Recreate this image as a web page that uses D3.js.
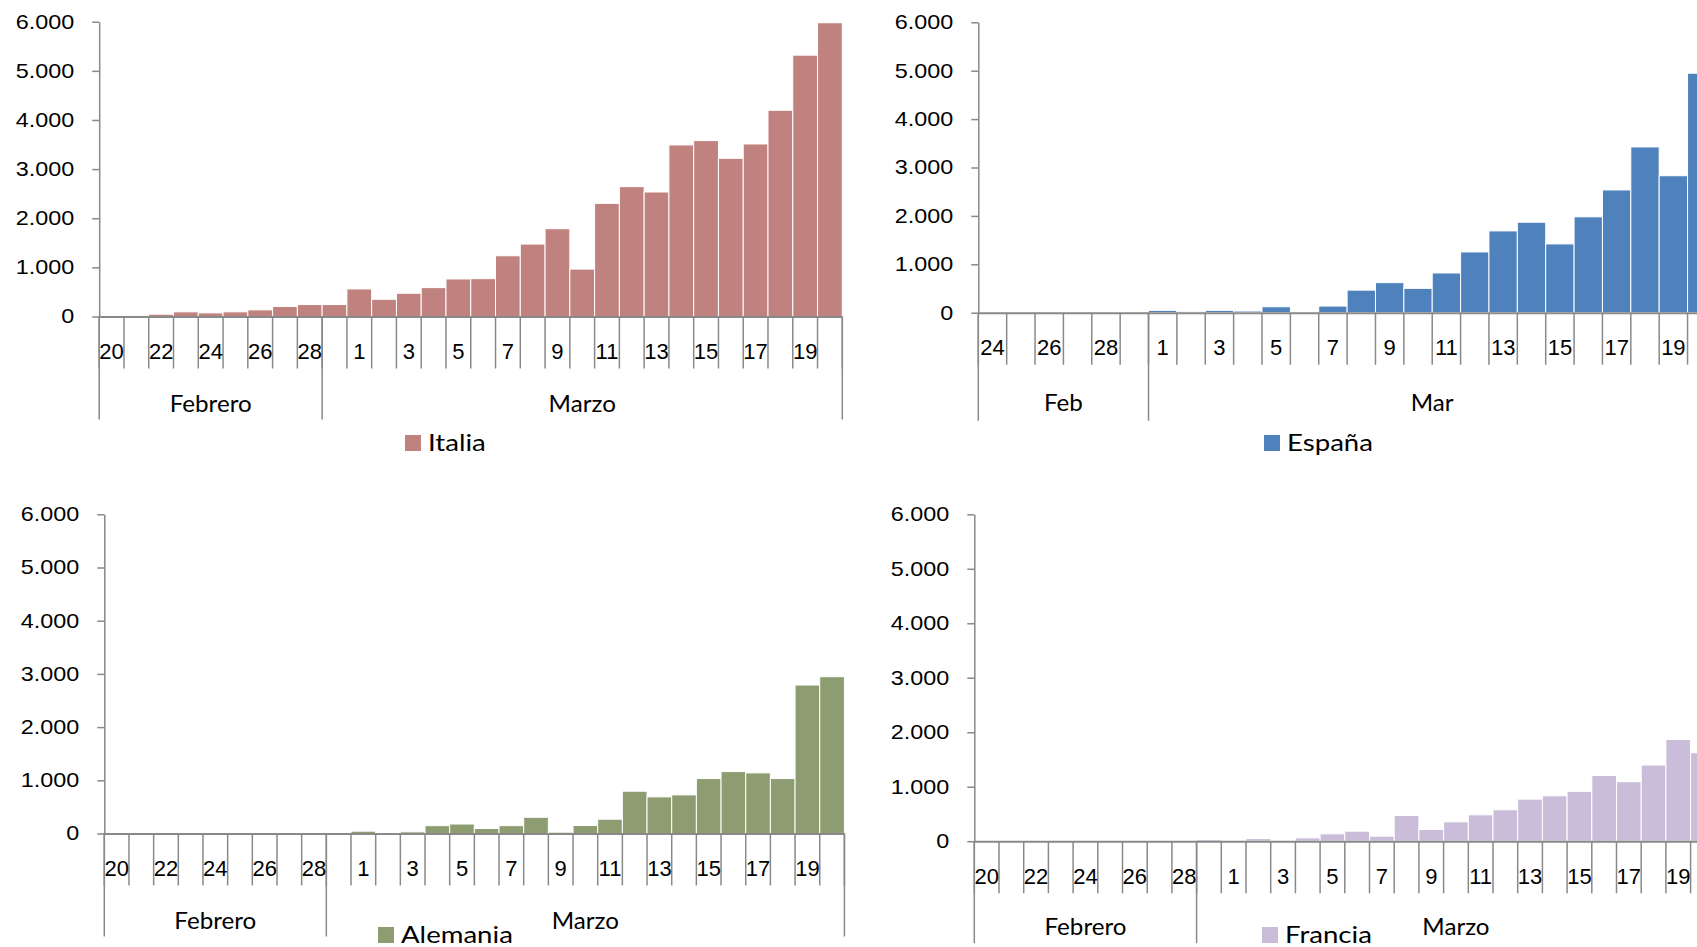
<!DOCTYPE html>
<html>
<head>
<meta charset="utf-8">
<script src="https://cdn.jsdelivr.net/npm/d3@7"></script>
<style>
  html, body { margin: 0; padding: 0; background: #fff; overflow: hidden; }
  svg { display: block; font-family: Lato, "Open Sans", sans-serif; }
</style>
</head>
<body>
<svg id="chart" width="1697" height="947"></svg>
<script>
// etiquetas de días (Italia, Alemania, Francia: 20 feb - 20 mar)
const diasLargo = ["20","21","22","23","24","25","26","27","28","29",
  "1","2","3","4","5","6","7","8","9","10","11","12","13","14","15","16","17","18","19","20"];
const mesesLargo = ["Febrero", "Marzo"];
const mesesLargoN = [9, 21];

// España: 24 feb - 20 mar
const diasEspana = ["24","25","26","27","28","29",
  "1","2","3","4","5","6","7","8","9","10","11","12","13","14","15","16","17","18","19","20"];
const mesesEspana = ["Feb", "Mar"];
const mesesEspanaN = [6, 20];

// nuevos casos diarios
const italia = [5, 13, 47, 95, 74, 95, 135, 203, 243, 243, 561, 351, 473, 588, 764, 770,
  1236, 1474, 1787, 965, 2303, 2643, 2534, 3492, 3580, 3220, 3512, 4198, 5319, 5978];
const espana = [0, 0, 0, 0, 3, 7, 48, 27, 48, 34, 123, 10, 137, 466, 621, 503,
  821, 1255, 1690, 1869, 1421, 1981, 2536, 3425, 2830, 4948];
const alemania = [0, 0, 0, 0, 0, 0, 0, 2, 3, 19, 44, 19, 31, 147, 178, 94,
  147, 305, 25, 150, 269, 795, 688, 726, 1033, 1164, 1139, 1033, 2791, 2947];
const francia = [0, 0, 0, 0, 0, 0, 0, 0, 0, 31, 18, 49, 3, 61, 135, 184,
  92, 472, 215, 355, 484, 576, 772, 833, 915, 1205, 1092, 1398, 1866, 1622];

const yTicks = [0, 1000, 2000, 3000, 4000, 5000, 6000];

const fmt = d3.formatLocale({ decimal: ",", thousands: ".", grouping: [3], currency: ["", "€"] }).format(",d");
const gris = "#898989";

const paneles = [
  { nombre: "Italia", valores: italia, dias: diasLargo, meses: mesesLargo, mesesN: mesesLargoN,
    color: "#C0827F", x0: 99.2, paso: 24.77, yTop: 21.7, yBase: 316.5, largo: 103, mesY: 95, leyenda: [405, 435] },
  { nombre: "España", valores: espana, dias: diasEspana, meses: mesesEspana, mesesN: mesesEspanaN,
    color: "#4F81BD", x0: 978.3, paso: 28.37, yTop: 22.3, yBase: 312.7, largo: 108, mesY: 98, leyenda: [1264, 435] },
  { nombre: "Alemania", valores: alemania, dias: diasLargo, meses: mesesLargo, mesesN: mesesLargoN,
    color: "#8E9C72", x0: 104.3, paso: 24.67, yTop: 514.3, yBase: 833.5, largo: 103, mesY: 95, leyenda: [378, 927] },
  { nombre: "Francia", valores: francia, dias: diasLargo, meses: mesesLargo, mesesN: mesesLargoN,
    color: "#C9BDD9", x0: 974.3, paso: 24.7, yTop: 514.3, yBase: 841.2, largo: 102, mesY: 94, leyenda: [1262, 927] }
];

const svg = d3.select("#chart");

const drawPanel = (p) => {
  const n = p.valores.length;
  const g = svg.append("g");

  const x = d3.scaleBand()
    .domain(d3.range(n))
    .range([p.x0, p.x0 + n * p.paso])
    .padding(0);

  const y = d3.scaleLinear()
    .domain([0, 6000])
    .range([p.yBase, p.yTop]);

  // barras
  g.append("g")
    .selectAll("rect")
    .data(p.valores)
    .enter()
    .append("rect")
    .attr("x", (d, i) => x(i))
    .attr("y", d => y(d))
    .attr("width", x.bandwidth())
    .attr("height", d => p.yBase - y(d))
    .attr("fill", p.color)
    .attr("stroke", "#fff")
    .attr("stroke-width", 1);

  // eje vertical (texto algo ensanchado, como en el original)
  const ejeY = g.append("g")
    .attr("transform", `translate(${p.x0},0)`)
    .call(d3.axisLeft(y).tickValues(yTicks).tickFormat(fmt).tickSize(7).tickSizeOuter(0).tickPadding(18));
  ejeY.selectAll("line, path").attr("stroke", gris).attr("stroke-width", 1.5);
  ejeY.selectAll("text")
    .attr("font-size", 20)
    .attr("fill", "#000")
    .attr("font-family", null)
    .attr("x", -25 / 1.17)
    .attr("transform", "scale(1.17,1)");

  // separadores de categoría
  g.append("g")
    .selectAll("line")
    .data(d3.range(n + 1))
    .enter()
    .append("line")
    .attr("x1", i => p.x0 + i * x.step())
    .attr("x2", i => p.x0 + i * x.step())
    .attr("y1", p.yBase)
    .attr("y2", p.yBase + 52)
    .attr("stroke", gris)
    .attr("stroke-width", 1.5);

  // separadores de mes
  const cortes = [0, ...d3.cumsum(p.mesesN)];
  g.append("g")
    .selectAll("line")
    .data(cortes)
    .enter()
    .append("line")
    .attr("x1", c => p.x0 + c * x.step())
    .attr("x2", c => p.x0 + c * x.step())
    .attr("y1", p.yBase)
    .attr("y2", p.yBase + p.largo)
    .attr("stroke", gris)
    .attr("stroke-width", 1.5);

  // eje horizontal con días (uno sí, uno no)
  const ejeX = g.append("g")
    .attr("transform", `translate(0,${p.yBase})`)
    .call(d3.axisBottom(x).tickSize(0).tickSizeOuter(0).tickPadding(27)
      .tickFormat(i => i % 2 === 0 ? p.dias[i] : ""));
  ejeX.select(".domain").attr("stroke", gris).attr("stroke-width", 2);
  ejeX.selectAll("text").attr("font-size", 22).attr("fill", "#000").attr("font-family", null);

  // nombres de mes
  g.append("g")
    .selectAll("g")
    .data(p.meses)
    .enter()
    .append("g")
    .attr("transform", (m, k) => `translate(${p.x0 + (cortes[k] + cortes[k + 1]) / 2 * x.step()},${p.yBase + p.mesY})`)
    .append("text")
    .attr("text-anchor", "middle")
    .attr("font-size", 23)
    .attr("transform", "scale(1.05,1)")
    .text(m => m);

  // leyenda
  const ley = g.append("g").attr("transform", `translate(${p.leyenda[0]},${p.leyenda[1]})`);
  ley.append("rect").attr("width", 16).attr("height", 16).attr("fill", p.color);
  ley.append("text")
    .attr("x", 23 / 1.15)
    .attr("y", 16)
    .attr("font-size", 24)
    .attr("transform", "scale(1.15,1)")
    .text(p.nombre);
};

paneles.forEach(drawPanel);
</script>
</body>
</html>
